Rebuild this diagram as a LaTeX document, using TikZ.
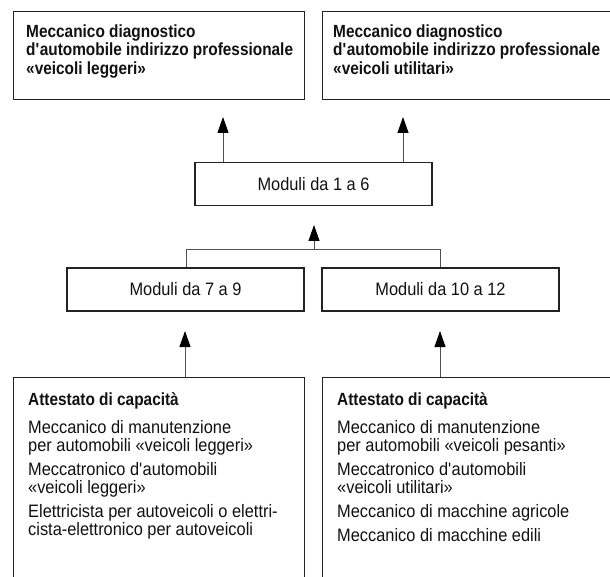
\documentclass[tikz,border=0pt]{standalone}
\usepackage{fontspec}
\setmainfont{Liberation Sans}[FakeStretch=0.875]
\newfontfamily\regfont{Liberation Sans}[FakeStretch=0.91]
\usetikzlibrary{arrows.meta}
\definecolor{boxc}{HTML}{222222}
\definecolor{linec}{HTML}{505050}
\definecolor{textc}{HTML}{111111}
\begin{document}
\begin{tikzpicture}[x=1pt,y=-1pt,
  box/.style={draw=boxc,line width=1.2pt,rectangle,inner sep=0pt,anchor=north west},
  modbox/.style={draw=boxc,line width=1.2pt,rectangle,inner sep=0pt,
    minimum width=237pt,minimum height=43pt,
    font=\regfont\fontsize{18}{18}\selectfont,text=textc},
  conn/.style={draw=linec,line width=1pt},
  arr/.style={conn,-{Triangle[length=16pt,width=11pt,color=black]}},
  txt/.style={anchor=base west,inner sep=0pt,text=textc,font=\regfont\fontsize{18}{18}\selectfont},
  btxt/.style={anchor=base west,inner sep=0pt,text=textc,font=\fontsize{17.6}{18}\selectfont\bfseries}]
\clip (0,0) rectangle (610,577);
\useasboundingbox (0,0) rectangle (610,577);

% top boxes
\node[box,minimum width=291.5pt,minimum height=88pt] (tl) at (12.5,11) {};
\node[box,minimum width=300pt,minimum height=88pt] (tr) at (322,11) {};
\node[btxt] (tl1) at (26,37.7) {Meccanico diagnostico};
\node[btxt] (tl2) at (26,56) {d\textquotesingle automobile indirizzo professionale};
\node[btxt] (tl3) at (26,74.2) {«veicoli leggeri»};
\node[btxt] (tr1) at (333,37.7) {Meccanico diagnostico};
\node[btxt] (tr2) at (333,56) {d\textquotesingle automobile indirizzo professionale};
\node[btxt] (tr3) at (333,74.2) {«veicoli utilitari»};

% module boxes
\node[modbox] (m16) at (313.5,184) {Moduli da 1 a 6};
\node[modbox] (m79) at (185.5,289.5) {Moduli da 7 a 9};
\node[modbox] (m1012) at (440.5,289.5) {Moduli da 10 a 12};

% bottom boxes
\node[box,minimum width=291.5pt,minimum height=240pt] (bl) at (12.5,377) {};
\node[box,minimum width=300pt,minimum height=240pt] (br) at (322,377) {};

\node[btxt] (bl0) at (28,405.5) {Attestato di capacità};
\node[txt] (bl1) at (28,433) {Meccanico di manutenzione};
\node[txt] (bl2) at (28,451) {per automobili «veicoli leggeri»};
\node[txt] (bl3) at (28,475.5) {Meccatronico d\textquotesingle automobili};
\node[txt] (bl4) at (28,493) {«veicoli leggeri»};
\node[txt] (bl5) at (28,517.5) {Elettricista per autoveicoli o elettri-};
\node[txt] (bl6) at (28,535.3) {cista-elettronico per autoveicoli};

\node[btxt] (br0) at (337,405.5) {Attestato di capacità};
\node[txt] (br1) at (337,433) {Meccanico di manutenzione};
\node[txt] (br2) at (337,451) {per automobili «veicoli pesanti»};
\node[txt] (br3) at (337,475.5) {Meccatronico d\textquotesingle automobili};
\node[txt] (br4) at (337,493) {«veicoli utilitari»};
\node[txt] (br5) at (337,517.5) {Meccanico di macchine agricole};
\node[txt] (br6) at (337,541.5) {Meccanico di macchine edili};

% connector points
\coordinate (tipL) at (223,117);
\coordinate (tipR) at (403,117);
\coordinate (tipM) at (314,225);
\coordinate (barL) at (186,250);
\coordinate (barR) at (440,250);
\coordinate (tipBL) at (185,331);
\coordinate (tipBR) at (440,331);

\draw[arr] (m16.north -| tipL) -- (tipL);
\draw[arr] (m16.north -| tipR) -- (tipR);
\draw[arr] (tipM |- barL) -- (tipM);
\draw[conn] (m79.north -| barL) -- (barL) -- (barR) -- (m1012.north -| barR);
\draw[arr] (bl.north -| tipBL) -- (tipBL);
\draw[arr] (br.north -| tipBR) -- (tipBR);
\end{tikzpicture}
\end{document}
